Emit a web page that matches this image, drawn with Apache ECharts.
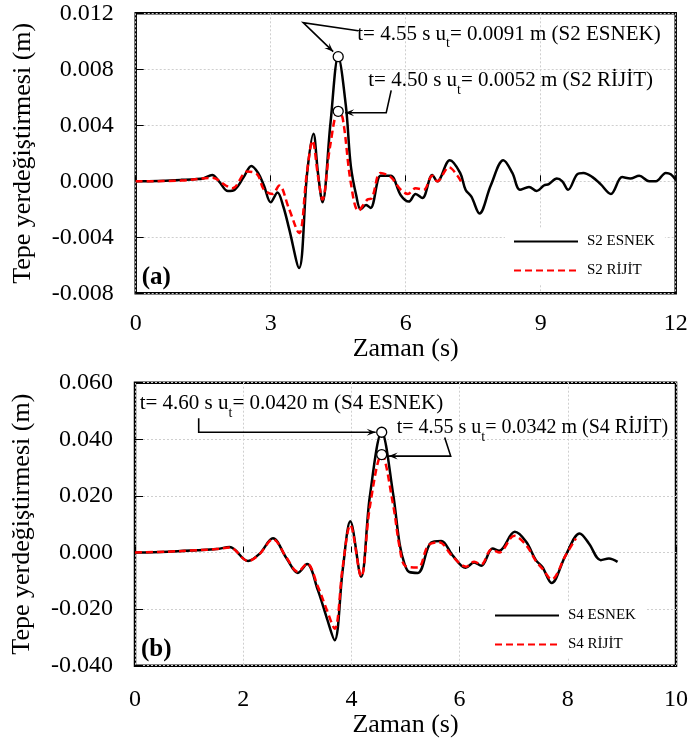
<!DOCTYPE html>
<html>
<head>
<meta charset="utf-8">
<script src="https://cdn.jsdelivr.net/npm/echarts@6/dist/echarts.min.js"></script>
<style>html,body{margin:0;padding:0;background:#fff;}#c{width:691px;height:743px;}</style>
</head>
<body>
<div id="c"></div>
<script>
// ---------- DATA ----------
// (a) S2
const tA_esnek = [0,0.5,1.0,1.3,1.5,1.70,1.85,2.05,2.20,2.40,2.57,2.72,2.85,3.0,3.15,3.28,3.41,3.63,3.81,3.95,4.05,4.15,4.33,4.50,4.67,4.78,4.90,5.0,5.12,5.22,5.44,5.55,5.67,5.89,6.07,6.22,6.37,6.59,6.70,6.98,7.21,7.33,7.46,7.64,7.89,8.17,8.37,8.54,8.74,8.91,9.07,9.18,9.36,9.48,9.61,9.81,9.95,10.15,10.33,10.56,10.81,10.99,11.19,11.41,11.56,11.78,11.89,12.0];
const uA_esnek = [0,0.00003,0.0001,0.00015,0.0002,0.00045,0.0,-0.0007,-0.0006,0.0003,0.0011,0.0006,-0.0003,-0.0015,-0.0008,-0.0018,-0.0034,-0.0062,0.0006,0.0034,0.0006,-0.0015,0.0042,0.0089,0.0054,0.0011,-0.0010,-0.0020,-0.0017,-0.0019,0.0004,0.0004,0.0004,-0.0010,-0.00145,-0.0009,-0.0012,0.00045,0.0,0.0015,0.0006,-0.0006,-0.0011,-0.0023,-0.0003,0.0015,0.0006,-0.0006,-0.0004,-0.0007,-0.0003,-0.0002,0.0002,0.0,-0.0006,0.0005,0.0006,0.0003,-0.0002,-0.0009,0.0003,0.0002,0.0004,0.0,0.0,0.0006,0.0005,0.0001];
const tA_rijit = [0,1.0,1.70,2.0,2.15,2.48,2.70,2.85,3.04,3.19,3.40,3.63,3.80,3.93,4.05,4.15,4.32,4.50,4.60,4.78,4.95,5.15,5.25,5.44,5.67,5.89,6.05,6.22,6.40,6.59,6.70,6.96,7.15,7.26];
const uA_rijit = [0,0.00005,0.00025,-0.0003,-0.0005,0.0007,0.0005,-0.0006,-0.0009,-0.0003,-0.0019,-0.0037,0.0005,0.0029,0.0004,-0.0013,0.0025,0.0050,0.0045,-0.0001,-0.0021,-0.0013,-0.0012,0.0006,0.0003,-0.0006,-0.0009,-0.0005,-0.0006,0.0004,0.0,0.0010,0.0004,-0.0002];
// (b) S4
const tB_esnek = [0,0.6,1.14,1.5,1.75,2.09,2.30,2.55,2.80,3.01,3.18,3.38,3.54,3.69,3.84,3.98,4.18,4.34,4.56,4.77,4.89,4.98,5.07,5.23,5.47,5.66,5.87,6.11,6.27,6.40,6.61,6.73,7.02,7.23,7.41,7.53,7.70,7.96,8.22,8.39,8.61,8.76,8.92];
const uB_esnek = [0,0.0003,0.0008,0.0012,0.0019,-0.0030,-0.0005,0.0050,-0.0020,-0.0072,-0.0041,-0.0133,-0.0228,-0.0310,-0.0060,0.0110,-0.0086,0.0197,0.0425,0.0209,0.0032,-0.0039,-0.0069,-0.0072,0.0035,0.0041,-0.0010,-0.0054,-0.0035,-0.0047,0.0014,0.0006,0.0073,0.0038,-0.0027,-0.0051,-0.0108,-0.0010,0.0067,0.0032,-0.0027,-0.0021,-0.0033];
const tB_rijit = [0,0.6,1.14,1.5,1.75,2.09,2.30,2.55,2.80,3.01,3.18,3.38,3.54,3.69,3.84,3.98,4.18,4.34,4.56,4.77,4.89,5.0,5.23,5.42,5.62,5.87,6.12,6.27,6.40,6.59,6.73,7.01,7.23,7.41,7.53,7.70,7.96,8.15];
const uB_rijit = [0,0.0003,0.0008,0.0012,0.0018,-0.0030,-0.0006,0.0047,-0.0018,-0.0068,-0.0039,-0.0120,-0.0200,-0.0269,-0.0050,0.0097,-0.0085,0.0160,0.0346,0.0170,0.0020,-0.0048,-0.0053,0.0025,0.0036,-0.0014,-0.0050,-0.0033,-0.0042,0.0011,0.0,0.0059,0.0026,-0.0030,-0.0057,-0.0095,-0.0010,0.0050];
// annotation values
const names = ['S2 ESNEK','S2 RİJİT','S4 ESNEK','S4 RİJİT'];
const peakT = [4.55, 4.50, 4.60, 4.55];
const peakU = [0.0091, 0.0052, 0.0420, 0.0342];
// ticks
const xTicksA = {min:0, max:12, interval:3};
const yTicksA = {min:-0.008, max:0.012, interval:0.004};
const xTicksB = {min:0, max:10, interval:2};
const yTicksB = {min:-0.04, max:0.06, interval:0.02};

// ---------- CHART ----------
const FONT = '"Liberation Serif","Times New Roman",serif';
const zip = (t,u) => t.map((v,i)=>[v,u[i]]);
const chart = echarts.init(document.getElementById('c'), null, {renderer:'canvas'});

function xAxis(g, ticks, margin, nameGap){
  return {gridIndex:g, type:'value', min:ticks.min, max:ticks.max, interval:ticks.interval,
    axisLine:{show:false}, axisTick:{show:true, inside:true, length:6, lineStyle:{color:'#000', width:1}},
    splitLine:{show:true, lineStyle:{color:'#cfcfcf', type:[2,2], width:1}},
    axisLabel:{fontFamily:FONT, fontSize:24, color:'#000', margin},
    name:'Zaman (s)', nameLocation:'middle', nameGap,
    nameTextStyle:{fontFamily:FONT, fontSize:26, color:'#000'}};
}
function yAxis(g, ticks){
  return {gridIndex:g, type:'value', min:ticks.min, max:ticks.max, interval:ticks.interval,
    axisLine:{show:false}, axisTick:{show:true, inside:true, length:8, lineStyle:{color:'#000', width:1}},
    splitLine:{show:true, lineStyle:{color:'#cfcfcf', type:[2,2], width:1}},
    axisLabel:{fontFamily:FONT, fontSize:24, color:'#000', margin:22,
      formatter: v => (Math.abs(v)<1e-12 ? 0 : v).toFixed(3)},
    name:'Tepe yerdeğiştirmesi (m)', nameLocation:'middle', nameGap:100, nameRotate:90,
    nameTextStyle:{fontFamily:FONT, fontSize:26, color:'#000'}};
}
function lineSeries(name, g, data, color, dashed){
  return {name, type:'line', xAxisIndex:g, yAxisIndex:g, data, smooth:0.35, symbol:'none',
    lineStyle:{color, width:2.5, type: dashed ? [7,4] : 'solid'}, itemStyle:{color},
    z: dashed ? 4 : 3,
    markPoint:{symbol:'circle', symbolSize:10, silent:true, z:10,
      itemStyle:{color:'#fff', borderColor:'#000', borderWidth:1.3},
      label:{show:false}, data:[{type:'max', valueDim:'y'}]}};
}
function legend(g, left, top){
  return {data:[names[2*g], names[2*g+1]], orient:'vertical', left, top,
    itemWidth:64, itemHeight:14, itemGap:14, padding:[6,10,6,8], backgroundColor:'#fff',
    itemStyle:{opacity:0},
    textStyle:{fontFamily:FONT, fontSize:15, color:'#000', padding:[0,0,0,4]}, selectedMode:false};
}

chart.setOption({
  animation:false,
  backgroundColor:'#fff',
  grid:[
    {left:135.7, top:13.3, width:540, height:280, show:true, borderColor:'#000', borderWidth:2.5, backgroundColor:'transparent'},
    {left:135, top:382.7, width:542, height:283, show:true, borderColor:'#000', borderWidth:2.5, backgroundColor:'transparent'}
  ],
  xAxis:[xAxis(0,xTicksA,18,41), xAxis(1,xTicksB,22,43)],
  yAxis:[yAxis(0,yTicksA), yAxis(1,yTicksB)],
  legend:[legend(0,505,228), legend(1,486,602)],
  series:[
    lineSeries(names[0],0,zip(tA_esnek,uA_esnek),'#000',false),
    lineSeries(names[1],0,zip(tA_rijit,uA_rijit),'#ff0000',true),
    lineSeries(names[2],1,zip(tB_esnek,uB_esnek),'#000',false),
    lineSeries(names[3],1,zip(tB_rijit,uB_rijit),'#ff0000',true)
  ]
});

// ---------- ANNOTATIONS ----------
const seriesT = [tA_esnek,tA_rijit,tB_esnek,tB_rijit];
const seriesU = [uA_esnek,uA_rijit,uB_esnek,uB_rijit];
function peakPixel(i){
  const u = seriesU[i]; let k = 0;
  for (let j=1;j<u.length;j++) if (u[j]>u[k]) k=j;
  const g = i<2?0:1;
  return chart.convertToPixel({xAxisIndex:g, yAxisIndex:g}, [seriesT[i][k], u[k]]);
}
// offsets (px) relative to the marker: text anchor and leader polyline
const layout = [
  {text:[19,-33], fs:21, line:[[20,-26],[-35,-34],[-5,-5]]},
  {text:[30,-41], fs:21, line:[[53,-21],[48,1.5],[7,1.5]]},
  {text:[-242,-39], fs:21, line:[[-183,-14],[-183,0],[-6,0]]},
  {text:[15,-37], fs:20, line:[[63,-17],[69,1.5],[7,1.5]]}
];
const graphics = [];
for (let i=0;i<4;i++){
  const p = peakPixel(i), L = layout[i];
  const rich = {
    a:{fontFamily:FONT, fontSize:L.fs, lineHeight:27, verticalAlign:'top', color:'#000'},
    b:{fontFamily:FONT, fontSize:14, lineHeight:27, verticalAlign:'bottom', color:'#000'}
  };
  graphics.push({type:'text', x:p[0]+L.text[0], y:p[1]+L.text[1], z:20,
    style:{text:`{a|t= ${peakT[i].toFixed(2)} s u}{b|t}{a|= ${peakU[i].toFixed(4)} m (${names[i]})}`,
      rich, align:'left', verticalAlign:'top'}});
  const pts = L.line.map(o=>[p[0]+o[0], p[1]+o[1]]);
  graphics.push({type:'polyline', z:20, shape:{points:pts}, style:{stroke:'#000', lineWidth:1.6, fill:null}});
  const a = pts[pts.length-1], b = pts[pts.length-2];
  const dx=a[0]-b[0], dy=a[1]-b[1], len=Math.hypot(dx,dy), ux=dx/len, uy=dy/len;
  const hl=9, hw=3.5;
  graphics.push({type:'polygon', z:20, shape:{points:[a,[a[0]-ux*hl-uy*hw, a[1]-uy*hl+ux*hw],[a[0]-ux*hl*0.6, a[1]-uy*hl*0.6],[a[0]-ux*hl+uy*hw, a[1]-uy*hl-ux*hw]]},
    style:{fill:'#000'}});
}
// panel letters
const panel = ['(a)','(b)'];
[0,1].forEach(g=>{
  const yt = g===0 ? yTicksA : yTicksB, xt = g===0 ? xTicksA : xTicksB;
  const p = chart.convertToPixel({xAxisIndex:g, yAxisIndex:g}, [xt.min, yt.min]);
  graphics.push({type:'text', x:p[0]+6, y:p[1]-16, z:20,
    style:{text:panel[g], fontFamily:FONT, fontSize:25, fontWeight:'bold', fill:'#000', align:'left', verticalAlign:'middle'}});
});
chart.setOption({graphic:graphics});
</script>
</body>
</html>
